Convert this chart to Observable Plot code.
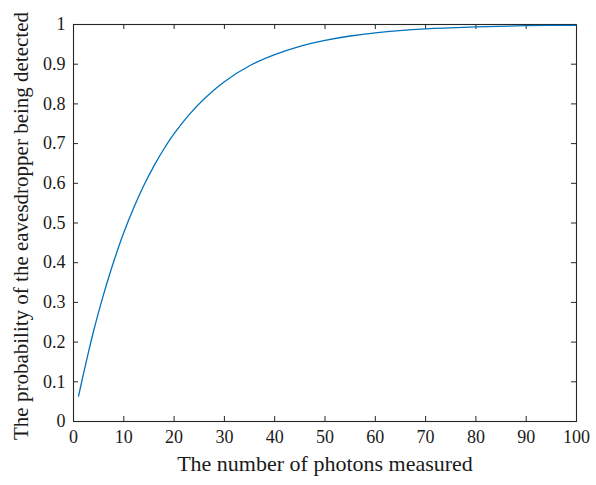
<!DOCTYPE html>
<html>
<head>
<meta charset="utf-8">
<script src="https://cdn.jsdelivr.net/npm/d3@7"></script>
<script src="https://cdn.jsdelivr.net/npm/@observablehq/plot@0.6"></script>
<style>
  html, body { margin: 0; padding: 0; background: #fff; }
  svg, svg text { font-family: 'Liberation Serif', 'DejaVu Serif', serif !important; }
</style>
</head>
<body>
<div id="chart"></div>
<script>
const photons = [1, 2, 3, 4, 5, 6, 8, 10, 12, 14, 16, 18, 20, 23, 26, 30, 35, 40, 45, 50, 55, 60, 70, 80, 90, 100];
const probability = [0.064, 0.121, 0.176, 0.228, 0.276, 0.321, 0.403, 0.476, 0.539, 0.595, 0.644, 0.687, 0.725, 0.773, 0.813, 0.856, 0.896, 0.924, 0.945, 0.960, 0.971, 0.979, 0.989, 0.994, 0.997, 0.998];
const xTicks = [0, 10, 20, 30, 40, 50, 60, 70, 80, 90, 100];
const yTicks = [0, 0.1, 0.2, 0.3, 0.4, 0.5, 0.6, 0.7, 0.8, 0.9, 1];
const xLabel = "The number of photons measured";
const yLabel = "The probability of the eavesdropper being detected";

const data = photons.map((n, i) => ({n, p: probability[i]}));
const ink = "#262626";
const font = "'Liberation Serif', 'DejaVu Serif', serif";

const chart = Plot.plot({
  width: 596,
  height: 485,
  marginLeft: 73,
  marginRight: 20,
  marginTop: 24,
  marginBottom: 64,
  style: {fontFamily: font, fontSize: "18px", color: "#1a1a1a", background: "#fff"},
  x: {domain: [0, 100]},
  y: {domain: [0, 1]},
  marks: [
    Plot.frame({stroke: ink, strokeWidth: 1.1}),
    Plot.axisX(xTicks, {tickSize: 0, tickPadding: 9, fontSize: 18, label: null, tickFormat: d => String(d)}),
    Plot.axisY(yTicks, {tickSize: 0, tickPadding: 8, fontSize: 18, label: null, tickFormat: d => String(d)}),
    Plot.ruleX(xTicks, {x: d => d, y1: 0, y2: 0, insetTop: -5, stroke: ink}),
    Plot.ruleX(xTicks, {x: d => d, y1: 1, y2: 1, insetBottom: -5, stroke: ink}),
    Plot.ruleY(yTicks, {y: d => d, x1: 0, x2: 0, insetRight: -5, stroke: ink}),
    Plot.ruleY(yTicks, {y: d => d, x1: 100, x2: 100, insetLeft: -5, stroke: ink}),
    Plot.line(data, {x: "n", y: "p", stroke: "#0072BD", strokeWidth: 1.3, curve: "catmull-rom"}),
    Plot.text([xLabel], {frameAnchor: "bottom", dy: 49, text: d => d, fontSize: 22, textAnchor: "middle", fill: "#1a1a1a"}),
    Plot.text([yLabel], {frameAnchor: "left", dx: -52, dy: 3, rotate: -90, text: d => d, fontSize: 21, textAnchor: "middle", fill: "#1a1a1a"})
  ]
});
document.getElementById("chart").appendChild(chart);
</script>
</body>
</html>
